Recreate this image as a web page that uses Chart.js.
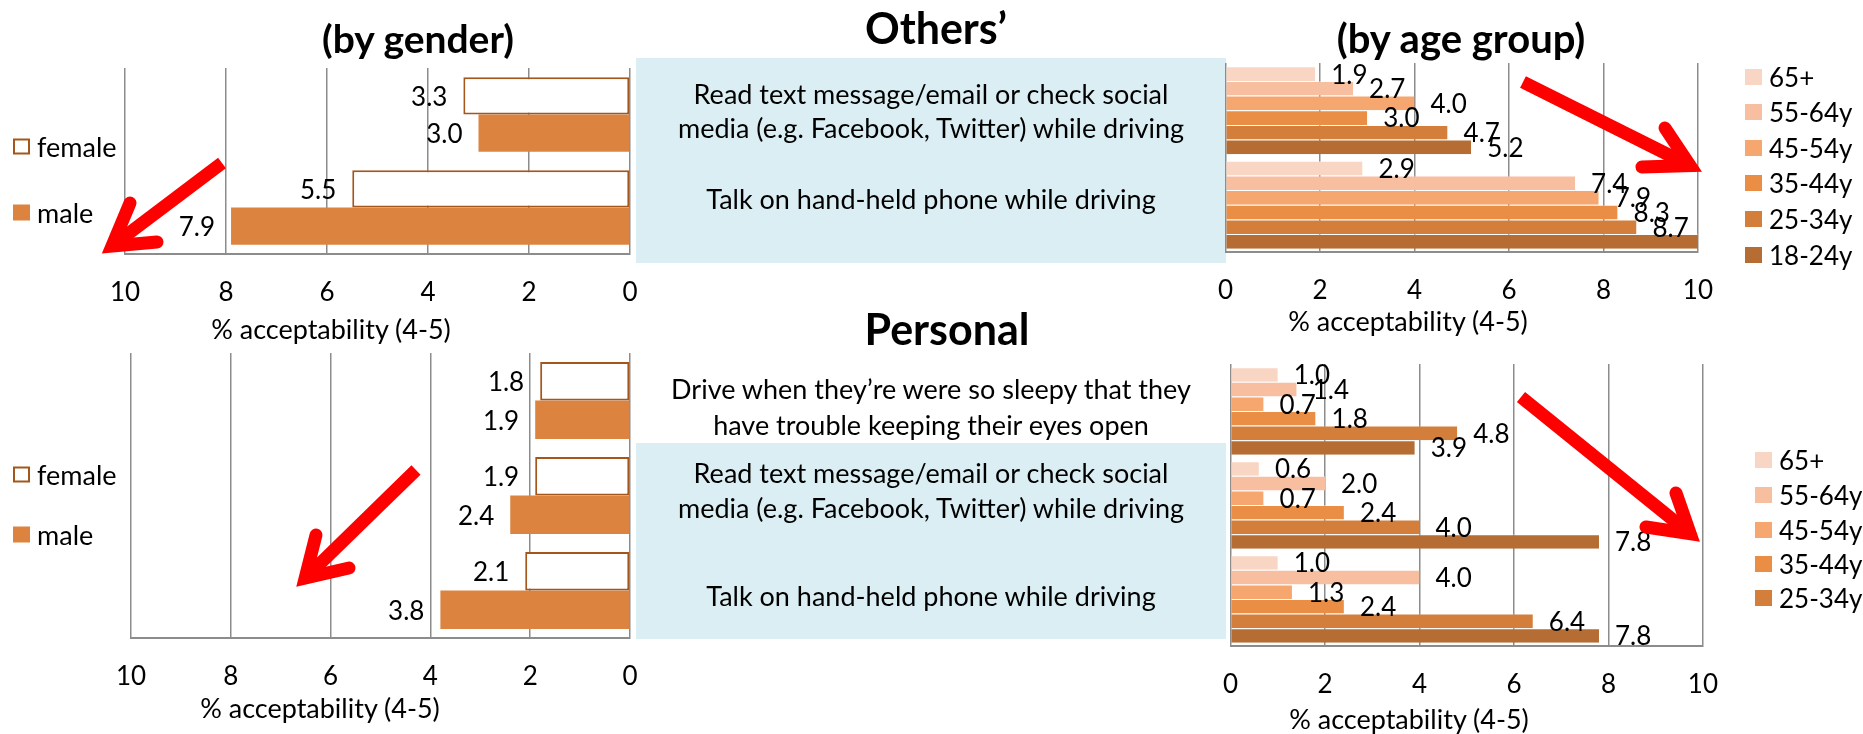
<!DOCTYPE html>
<html>
<head>
<meta charset="utf-8">
<script src="https://cdn.jsdelivr.net/npm/chart.js@4.4.1/dist/chart.umd.min.js"></script>
<style>
  html, body { margin: 0; padding: 0; background: #fff; }
  body { width: 1863px; height: 734px; position: relative; overflow: hidden;
         font-family: Lato, "Open Sans", sans-serif; color: #000; }
  .box { position: absolute; background: #DAEEF3; }
  canvas { position: absolute; }
  .txt { position: absolute; transform: translate(-50%, -50%); line-height: 1; white-space: nowrap; }
  .title { font-weight: 700; }
  .leg { position: absolute; display: flex; align-items: center; transform: translateY(-50%);
         line-height: 1; white-space: nowrap; }
  .leg i { display: inline-block; width: 17px; height: 16px; box-sizing: border-box; margin-right: 7px; }
  svg { position: absolute; left: 0; top: 0; }
</style>
</head>
<body>
<div class="box" style="left:636px;top:58px;width:590px;height:205px"></div>
<div class="box" style="left:636px;top:443px;width:590px;height:196px"></div>

<canvas id="othersGender" width="565" height="256" style="left:95px;top:58px"></canvas>
<canvas id="othersAge" width="541" height="259" style="left:1195px;top:53px"></canvas>
<canvas id="personalGender" width="559" height="355" style="left:101px;top:343px"></canvas>
<canvas id="personalAge" width="541" height="352" style="left:1200px;top:354px"></canvas>

<svg id="arrows" width="1863" height="734"></svg>

<script>
// ---- data ----
const othersTasks = [
  ['Read text message/email or check social', 'media (e.g. Facebook, Twitter) while driving'],
  ['Talk on hand-held phone while driving']
];
const personalTasks = [
  ['Drive when they\u2019re were so sleepy that they', 'have trouble keeping their eyes open'],
  ['Read text message/email or check social', 'media (e.g. Facebook, Twitter) while driving'],
  ['Talk on hand-held phone while driving']
];
const genders = ['female', 'male'];
const ageGroups = ['65+', '55-64y', '45-54y', '35-44y', '25-34y', '18-24y'];
const xTicks = [0, 2, 4, 6, 8, 10];
const axisLabel = '% acceptability (4-5)';

// others' behaviour, by gender
const othersFemale = [3.3, 5.5];
const othersMale = [3.0, 7.9];
// others' behaviour, by age group (18-24y talk bar runs off the axis)
const others65 = [1.9, 2.9];
const others5564 = [2.7, 7.4];
const others4554 = [4.0, 7.9];
const others3544 = [3.0, 8.3];
const others2534 = [4.7, 8.7];
const others1824 = [5.2, 10.4];

// personal behaviour, by gender
const personalFemale = [1.8, 1.9, 2.1];
const personalMale = [1.9, 2.4, 3.8];
// personal behaviour, by age group
const personal65 = [1.0, 0.6, 1.0];
const personal5564 = [1.4, 2.0, 4.0];
const personal4554 = [0.7, 0.7, 1.3];
const personal3544 = [1.8, 2.4, 2.4];
const personal2534 = [4.8, 4.0, 6.4];
const personal1824 = [3.9, 7.8, 7.8];

// ---- styles ----
const ageColors = ['#F9D5C3', '#F7BE9F', '#F5A76F', '#EA8E45', '#D37F3B', '#B56D33'];
const maleColor = '#DC843F';
const femaleBorder = '#A5561B';
const GRID = '#8C8C8C';

Chart.defaults.font.family = 'Lato, "Open Sans", sans-serif';
Chart.defaults.color = '#000';

// value labels at the end of each bar
const valueLabels = {
  id: 'valueLabels',
  afterDatasetsDraw(chart) {
    const { ctx, scales: { x } } = chart;
    const rev = x.options.reverse;
    ctx.save();
    ctx.font = '26px Lato, "Open Sans", sans-serif';
    ctx.fillStyle = '#000';
    ctx.textBaseline = 'middle';
    ctx.textAlign = rev ? 'right' : 'left';
    chart.data.datasets.forEach((ds, i) => {
      chart.getDatasetMeta(i).data.forEach((bar, j) => {
        const v = ds.data[j];
        if (v > x.max) return;
        ctx.fillText(v.toFixed(1), bar.x + (rev ? -16 : 16), bar.y + 1.5);
      });
    });
    ctx.restore();
  }
};

function makeChart(id, labels, datasets, reverse, catPct) {
  return new Chart(document.getElementById(id), {
    type: 'bar',
    data: { labels, datasets },
    options: {
      indexAxis: 'y',
      responsive: false,
      animation: false,
      layout: { padding: { left: 30, right: 30, top: 10, bottom: 0 } },
      datasets: { bar: { categoryPercentage: catPct, barPercentage: 1, clip: 0 } },
      plugins: { legend: { display: false }, tooltip: { enabled: false } },
      scales: {
        x: {
          min: 0, max: 10, reverse: reverse,
          afterBuildTicks: s => { s.ticks = xTicks.map(v => ({ value: v })); },
          ticks: { font: { size: 26 }, padding: 23, color: '#000', maxRotation: 0 },
          grid: { color: GRID, lineWidth: 1.5, drawTicks: false },
          border: { color: GRID, width: 2 },
          afterFit: s => { s.height = 60; }
        },
        y: { display: false }
      }
    },
    plugins: [valueLabels]
  });
}

function genderSets(female, male) {
  return [
    { label: genders[0], data: female, backgroundColor: '#FFFFFF', borderColor: femaleBorder,
      borderWidth: 2, borderSkipped: false, legendBorder: true },
    { label: genders[1], data: male, backgroundColor: maleColor, borderWidth: 0 }
  ];
}
function ageSets(series) {
  return series.map((d, i) => ({
    label: ageGroups[i], data: d, backgroundColor: ageColors[i],
    borderColor: 'rgba(255,255,255,0.35)', borderWidth: { top: 1, bottom: 0, left: 0, right: 0 },
    borderSkipped: false
  }));
}

const c1 = makeChart('othersGender', othersTasks, genderSets(othersFemale, othersMale), true, 0.8);
const c2 = makeChart('othersAge', othersTasks,
  ageSets([others65, others5564, others4554, others3544, others2534, others1824]), false, 0.93);
const c3 = makeChart('personalGender', personalTasks, genderSets(personalFemale, personalMale), true, 0.81);
const c4 = makeChart('personalAge', personalTasks,
  ageSets([personal65, personal5564, personal4554, personal3544, personal2534, personal1824]), false, 0.93);

// ---- html text ----
function addText(str, cx, cy, size, cls) {
  const d = document.createElement('div');
  d.className = 'txt' + (cls ? ' ' + cls : '');
  d.textContent = str;
  d.style.left = cx + 'px';
  d.style.top = cy + 'px';
  d.style.fontSize = size + 'px';
  document.body.appendChild(d);
}

function buildLegend(chart, left, rows, size, count) {
  chart.data.datasets.slice(0, count).forEach((ds, i) => {
    const row = document.createElement('div');
    row.className = 'leg';
    row.style.left = left + 'px';
    row.style.top = rows[i] + 'px';
    row.style.fontSize = size + 'px';
    const sw = document.createElement('i');
    sw.style.background = ds.backgroundColor;
    if (ds.legendBorder) sw.style.border = '2px solid ' + ds.borderColor;
    row.append(sw, ds.label);
    document.body.appendChild(row);
  });
}

addText('(by gender)', 418, 38, 39, 'title');
addText('Others\u2019', 936, 27, 43, 'title');
addText('(by age group)', 1461, 38, 40, 'title');
addText('Personal', 947, 328, 43, 'title');

// task descriptions in the middle column
const othersRows = [[93, 127], [198]];
const personalRows = [[388, 424], [472, 507], [595]];
othersTasks.forEach((lines, i) => lines.forEach((l, k) => addText(l, 931, othersRows[i][k], 27)));
personalTasks.forEach((lines, i) => lines.forEach((l, k) => addText(l, 931, personalRows[i][k], 27)));

addText(axisLabel, 331, 328, 27);
addText(axisLabel, 1408, 320, 27);
addText(axisLabel, 320, 707, 27);
addText(axisLabel, 1409, 718, 27);

buildLegend(c1, 13, [146, 212], 27, 2);
buildLegend(c3, 13, [474, 534], 27, 2);
buildLegend(c2, 1745, [77, 112, 148, 183, 219, 255], 26, 6);
buildLegend(c4, 1755, [460, 495, 530, 564, 598], 26, 5);

// ---- red arrows ----
const arrows = [
  { tail: [222, 163], tip: [104, 252], w1: [130, 203], w2: [157, 242] },
  { tail: [1523, 82], tip: [1699, 170], w1: [1665, 128], w2: [1642, 167] },
  { tail: [416, 470], tip: [298, 585], w1: [316, 535], w2: [349, 568] },
  { tail: [1521, 397], tip: [1698, 540], w1: [1676, 493], w2: [1646, 527] }
];
const svg = document.getElementById('arrows');
const NS = 'http://www.w3.org/2000/svg';
arrows.forEach(a => {
  const dx = a.tip[0] - a.tail[0], dy = a.tip[1] - a.tail[1];
  const len = Math.hypot(dx, dy), ux = dx / len, uy = dy / len;
  const t = [a.tip[0] - ux * 10, a.tip[1] - uy * 10];
  const shaft = document.createElementNS(NS, 'line');
  shaft.setAttribute('x1', a.tail[0]); shaft.setAttribute('y1', a.tail[1]);
  shaft.setAttribute('x2', t[0] - ux * 6); shaft.setAttribute('y2', t[1] - uy * 6);
  shaft.setAttribute('stroke', '#FF0000'); shaft.setAttribute('stroke-width', 13);
  svg.appendChild(shaft);
  const head = document.createElementNS(NS, 'polyline');
  head.setAttribute('points', [a.w1, t, a.w2].map(p => p.join(',')).join(' '));
  head.setAttribute('fill', 'none');
  head.setAttribute('stroke', '#FF0000'); head.setAttribute('stroke-width', 13);
  head.setAttribute('stroke-linecap', 'round'); head.setAttribute('stroke-linejoin', 'miter');
  svg.appendChild(head);
});
</script>
</body>
</html>
